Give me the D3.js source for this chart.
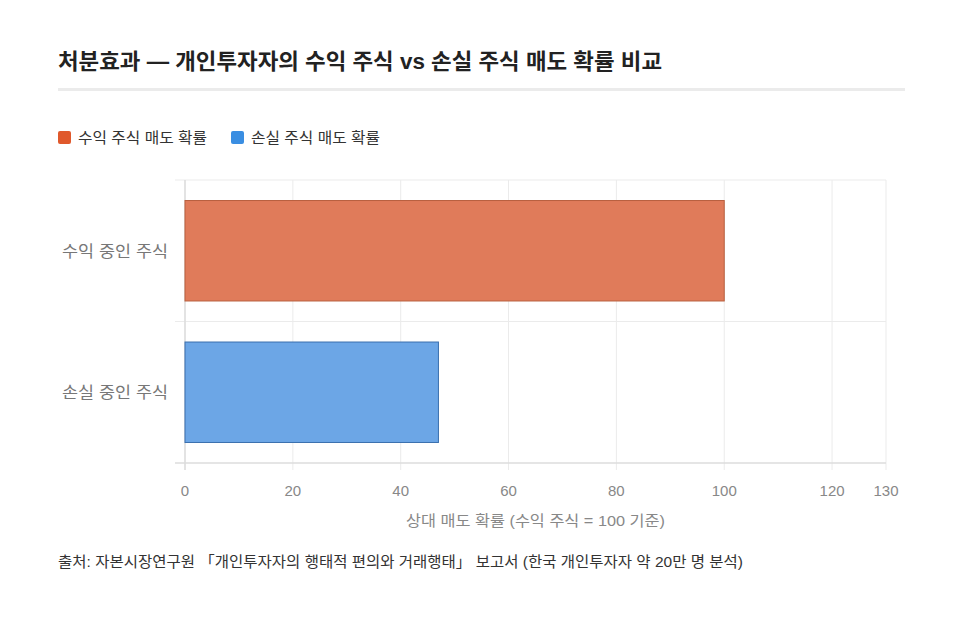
<!DOCTYPE html>
<html><head><meta charset="utf-8">
<script src="https://cdn.jsdelivr.net/npm/d3@7"></script>
<style>
body{margin:0;background:#fff;}
</style></head>
<body><svg id="c" width="966" height="629"></svg>
<script>
const categories = ["수익 중인 주식", "손실 중인 주식"];
const values = [100, 47];
const seriesNames = ["수익 주식 매도 확률", "손실 주식 매도 확률"];
const xTicks = [0, 20, 40, 60, 80, 100, 120, 130];
const titleText = "처분효과 — 개인투자자의 수익 주식 vs 손실 주식 매도 확률 비교";
const xTitle = "상대 매도 확률 (수익 주식 = 100 기준)";
const sourceText = "출처: 자본시장연구원 「개인투자자의 행태적 편의와 거래행태」 보고서 (한국 개인투자자 약 20만 명 분석)";

const fills = ["#e07b5a", "#6ca6e6"];
const strokes = ["#b9603f", "#3a6fae"];
const legendColors = ["#e0592c", "#3a8ee2"];

const svg = d3.select("#c");
const font = '"Liberation Sans","Noto Sans CJK KR",sans-serif';

function fit(sel, w) { sel.attr("textLength", w).attr("lengthAdjust", "spacingAndGlyphs"); return sel; }

fit(svg.append("text").attr("x", 58).attr("y", 69).attr("font-family", font)
  .attr("font-size", 22).attr("font-weight", 700).attr("fill", "#222").text(titleText), 604);
svg.append("rect").attr("x", 58).attr("y", 88).attr("width", 847).attr("height", 3).attr("fill", "#ebebeb");

// legend
const legendX = [58, 231];
seriesNames.forEach((n, i) => {
  svg.append("rect").attr("x", legendX[i]).attr("y", 131).attr("width", 13).attr("height", 13).attr("rx", 2).attr("fill", legendColors[i]);
  fit(svg.append("text").attr("x", legendX[i] + 20).attr("y", 143).attr("font-family", font)
    .attr("font-size", 15).attr("fill", "#333").text(n), 129);
});

const m = {l: 185, r: 886, t: 180, b: 463};
const x = d3.scaleLinear().domain([0, 130]).range([m.l, m.r]);
const y = d3.scaleBand().domain(categories).range([m.t, m.b]).paddingInner(0.29).paddingOuter(0.145);
const yb = d3.scaleBand().domain(categories).range([m.t, m.b]);

const g = svg.append("g");
// vertical grid
g.selectAll("line.vg").data(xTicks).join("line")
  .attr("x1", d => x(d)).attr("x2", d => x(d)).attr("y1", m.t).attr("y2", m.b + 7)
  .attr("stroke", "#ebebeb").attr("stroke-width", 1);
// horizontal grid
g.selectAll("line.hg").data([yb(categories[0]), yb(categories[1])]).join("line")
  .attr("x1", m.l - 10).attr("x2", m.r).attr("y1", d => d).attr("y2", d => d)
  .attr("stroke", "#ebebeb");
// axis lines
g.append("line").attr("x1", m.l - 10).attr("x2", m.r).attr("y1", m.b).attr("y2", m.b).attr("stroke", "#dcdcdc").attr("stroke-width", 1.5);
g.append("line").attr("x1", m.l).attr("x2", m.l).attr("y1", m.t).attr("y2", m.b + 7).attr("stroke", "#dcdcdc").attr("stroke-width", 1.5);

// bars
g.selectAll("rect.bar").data(values).join("rect")
  .attr("x", x(0)).attr("y", (d, i) => y(categories[i]))
  .attr("width", d => x(d) - x(0)).attr("height", y.bandwidth())
  .attr("fill", (d, i) => fills[i]).attr("stroke", (d, i) => strokes[i]).attr("stroke-width", 1);

// x tick labels
g.selectAll("text.xt").data(xTicks).join("text")
  .attr("x", d => x(d)).attr("y", 496).attr("text-anchor", "middle")
  .attr("font-family", font).attr("font-size", 15).attr("fill", "#888").text(d => d);
// y labels
g.selectAll("text.yl").data(categories).join("text")
  .attr("x", 62).attr("y", d => y(d) + y.bandwidth() / 2 + 6)
  .attr("font-family", font).attr("font-size", 16).attr("fill", "#777")
  .attr("textLength", 106).attr("lengthAdjust", "spacingAndGlyphs").text(d => d);

fit(svg.append("text").attr("x", 406).attr("y", 526)
  .attr("font-family", font).attr("font-size", 15).attr("fill", "#888").text(xTitle), 259);
fit(svg.append("text").attr("x", 58).attr("y", 567).attr("font-family", font)
  .attr("font-size", 15).attr("fill", "#333").text(sourceText), 685);
</script></body></html>
